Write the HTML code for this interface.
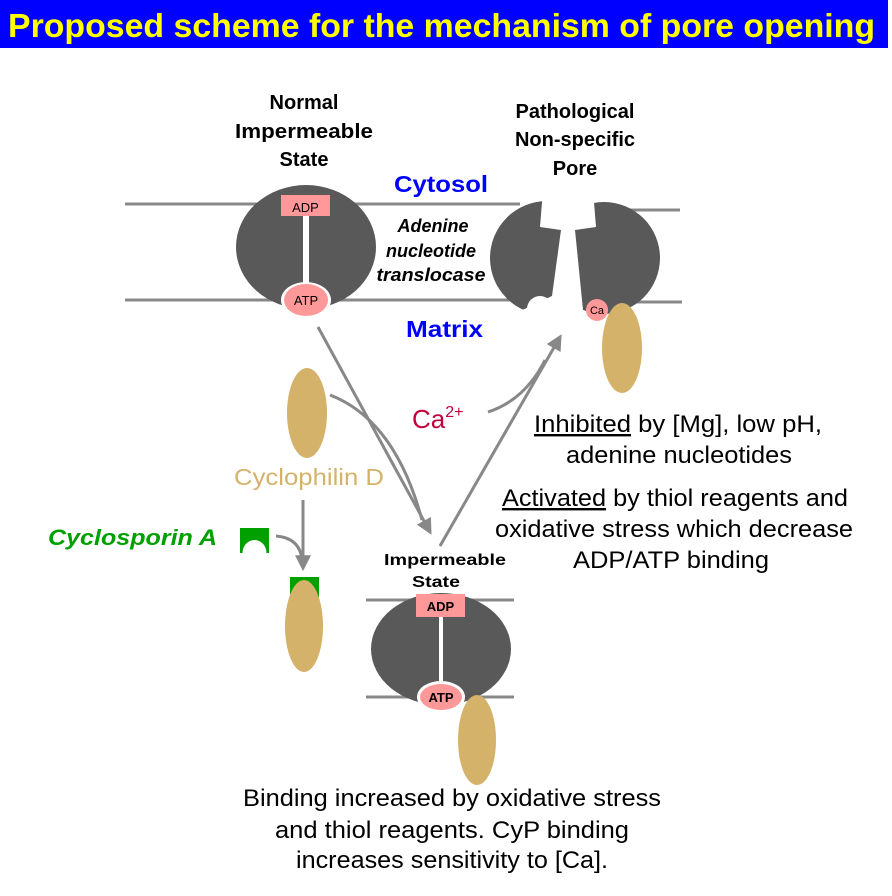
<!DOCTYPE html>
<html><head><meta charset="utf-8"><style>
html,body{margin:0;padding:0;background:#fff;}
svg{display:block;font-family:"Liberation Sans",Arial,sans-serif;}
</style></head><body>
<svg width="892" height="896" viewBox="0 0 892 896" xmlns="http://www.w3.org/2000/svg">
<defs>
<marker id="ah2" viewBox="0 0 10 10" markerWidth="16" markerHeight="16" refX="8" refY="5" orient="auto" markerUnits="userSpaceOnUse">
<path d="M0,0 L10,5 L0,10 Z" fill="#888"/>
</marker>
<clipPath id="poreL"><polygon points="480,190 543,190 540,227 561,230 552,296 480,330"/></clipPath>
<clipPath id="poreR"><polygon points="593,190 700,190 700,330 585,330 575,230 596,227"/></clipPath>
</defs>
<rect x="0" y="0" width="888" height="48" fill="#0000ff"/>
<text x="8" y="37" font-size="33" font-weight="bold" fill="#ffff00" textLength="867" lengthAdjust="spacingAndGlyphs">Proposed scheme for the mechanism of pore opening</text>

<!-- membranes -->
<g stroke="#888" stroke-width="3">
<line x1="125" y1="204" x2="520" y2="204"/>
<line x1="125" y1="300" x2="520" y2="300"/>
<line x1="615" y1="210" x2="680" y2="210"/>
<line x1="615" y1="302" x2="682" y2="302"/>
<line x1="366" y1="600" x2="514" y2="600"/>
<line x1="366" y1="697" x2="514" y2="697"/>
</g>

<!-- left ANT -->
<ellipse cx="306" cy="247" rx="70" ry="62" fill="#595959"/>
<rect x="303" y="205" width="6" height="90" fill="#fff"/>
<rect x="281" y="195" width="49" height="21" fill="#f99"/>
<text x="305.5" y="212" font-size="13" text-anchor="middle">ADP</text>
<ellipse cx="306" cy="300" rx="25" ry="18" fill="#fff"/>
<ellipse cx="306" cy="300" rx="22" ry="16" fill="#f99"/>
<text x="306" y="305" font-size="13" text-anchor="middle">ATP</text>

<!-- pore -->
<g clip-path="url(#poreL)"><circle cx="547" cy="258" r="57" fill="#595959"/></g>
<g clip-path="url(#poreR)"><circle cx="604" cy="258" r="56" fill="#595959"/></g>
<circle cx="540" cy="309" r="13" fill="#fff"/>
<ellipse cx="622" cy="348" rx="20" ry="45" fill="#d4b26a"/>
<circle cx="597" cy="310" r="11" fill="#f99"/>
<text x="597" y="314" font-size="11" text-anchor="middle">Ca</text>

<!-- labels -->
<g font-size="20" font-weight="bold" text-anchor="middle">
<text x="304" y="109">Normal</text>
<text x="304" y="138" textLength="138" lengthAdjust="spacingAndGlyphs">Impermeable</text>
<text x="304" y="166">State</text>
<text x="575" y="118">Pathological</text>
<text x="575" y="146">Non-specific</text>
<text x="575" y="175">Pore</text>
</g>
<text x="394" y="192" font-size="23" font-weight="bold" fill="#0000ff" textLength="94" lengthAdjust="spacingAndGlyphs">Cytosol</text>
<g font-size="18" font-weight="bold" font-style="italic" text-anchor="middle">
<text x="433" y="232">Adenine</text>
<text x="431" y="257">nucleotide</text>
<text x="431" y="281" textLength="109" lengthAdjust="spacingAndGlyphs">translocase</text>
</g>
<text x="406" y="337" font-size="23" font-weight="bold" fill="#0000ff" textLength="77" lengthAdjust="spacingAndGlyphs">Matrix</text>

<!-- arrows -->
<g stroke="#888" stroke-width="3" fill="none">
<line x1="318" y1="327" x2="430" y2="532" marker-end="url(#ah2)"/>
<path d="M330,395 Q395,420 422,520" />
<line x1="440" y1="546" x2="560" y2="337" marker-end="url(#ah2)"/>
<path d="M488,412 Q525,400 545,360"/>
<line x1="303" y1="500" x2="303" y2="568" marker-end="url(#ah2)"/>
<path d="M276,536 Q300,538 302,560"/>
</g>

<text x="412" y="428" font-size="26" fill="#c0003c">Ca<tspan font-size="16" dy="-11">2+</tspan></text>

<!-- cyclophilin -->
<ellipse cx="307" cy="413" rx="20" ry="45" fill="#d4b26a"/>
<text x="234" y="485" font-size="23" fill="#d4b26a" textLength="150" lengthAdjust="spacingAndGlyphs">Cyclophilin D</text>
<text x="48" y="545" font-size="22" font-weight="bold" font-style="italic" fill="#00a000" textLength="169" lengthAdjust="spacingAndGlyphs">Cyclosporin A</text>
<rect x="240" y="528" width="29" height="25" fill="#00a000"/>
<ellipse cx="254.5" cy="553" rx="12" ry="13" fill="#fff"/>
<rect x="290" y="577" width="29" height="25" fill="#00a000"/>
<ellipse cx="304" cy="626" rx="19" ry="46" fill="#d4b26a"/>

<!-- bottom ANT -->
<text x="384" y="565" font-size="16" font-weight="bold" textLength="122" lengthAdjust="spacingAndGlyphs">Impermeable</text>
<text x="412" y="587" font-size="16" font-weight="bold" textLength="48" lengthAdjust="spacingAndGlyphs">State</text>
<ellipse cx="441" cy="649" rx="70" ry="56" fill="#595959"/>
<rect x="439" y="610" width="4" height="80" fill="#fff"/>
<rect x="416" y="594" width="49" height="23" fill="#f99"/>
<text x="440.5" y="611" font-size="13" font-weight="bold" text-anchor="middle">ADP</text>
<ellipse cx="441" cy="697" rx="24" ry="16" fill="#fff"/>
<ellipse cx="441" cy="697" rx="21" ry="13" fill="#f99"/>
<text x="441" y="702" font-size="13" font-weight="bold" text-anchor="middle">ATP</text>
<ellipse cx="477" cy="740" rx="19" ry="45" fill="#d4b26a"/>

<!-- right text -->
<g font-size="24" lengthAdjust="spacingAndGlyphs">
<text x="534" y="432" textLength="288" lengthAdjust="spacingAndGlyphs"><tspan text-decoration="underline">Inhibited</tspan>  by [Mg], low pH,</text>
<text x="566" y="463" textLength="226" lengthAdjust="spacingAndGlyphs">adenine nucleotides</text>
<text x="502" y="506" textLength="346" lengthAdjust="spacingAndGlyphs"><tspan text-decoration="underline">Activated</tspan> by thiol reagents and</text>
<text x="495" y="537" textLength="358" lengthAdjust="spacingAndGlyphs">oxidative stress which decrease</text>
<text x="573" y="568" textLength="196" lengthAdjust="spacingAndGlyphs">ADP/ATP binding</text>
<text x="243" y="806" textLength="418" lengthAdjust="spacingAndGlyphs">Binding increased by oxidative stress</text>
<text x="275" y="838" textLength="354" lengthAdjust="spacingAndGlyphs">and thiol reagents. CyP binding</text>
<text x="296" y="868" textLength="312" lengthAdjust="spacingAndGlyphs">increases sensitivity to [Ca].</text>
</g>
</svg>
</body></html>
